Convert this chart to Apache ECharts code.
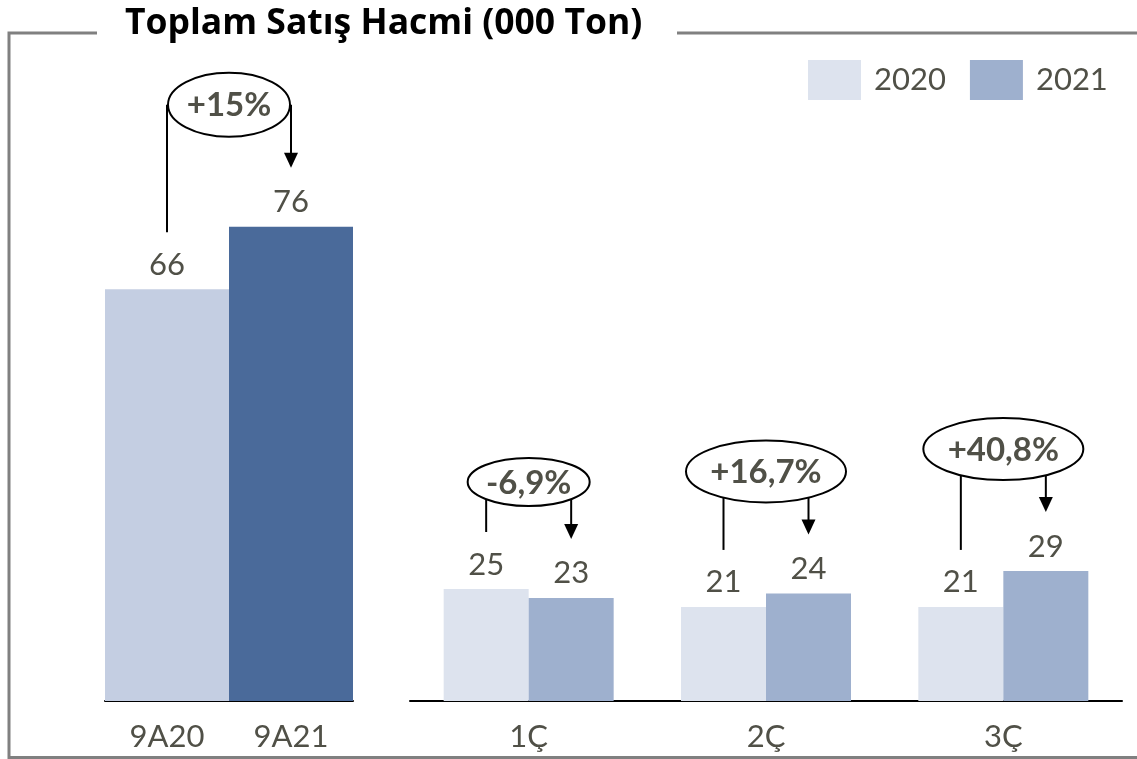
<!DOCTYPE html>
<html>
<head>
<meta charset="utf-8">
<script src="https://cdn.jsdelivr.net/npm/echarts@6/dist/echarts.min.js"></script>
<style>
html,body{margin:0;padding:0;background:#fff;}
#c{width:1137px;height:759px;}
</style>
</head>
<body>
<div id="c"></div>
<script>
// ---- data ----
const titleText = 'Toplam Satış Hacmi (000 Ton)';
const nineMonthCats = ['9A20', '9A21'];
const nineMonthValues = [66, 76];
const nineMonthChange = ['+15%'];
const quarterCats = ['1Ç', '2Ç', '3Ç'];
const values2020 = [25, 21, 21];
const values2021 = [23, 24, 29];
const quarterChange = ['-6,9%', '+16,7%', '+40,8%'];
const seriesNames = ['2020', '2021'];

// ---- styles ----
const FONT = 'Lato, "Open Sans", sans-serif';
const TXT = '#505047';
const C_9A20 = '#c4cee2';
const C_9A21 = '#4a6a9a';
const C_2020 = '#dde3ee';
const C_2021 = '#9eb0ce';
const FS = 31;

const chart = echarts.init(document.getElementById('c'), null, {renderer: 'canvas', width: 1137, height: 759});

const labelStyle = {show: true, position: 'top', distance: 9, fontSize: FS, color: TXT, fontFamily: FONT};
const xAxisBase = {
  type: 'category',
  axisLine: {show: true, lineStyle: {color: '#000', width: 2}},
  axisTick: {show: false},
  axisLabel: {fontSize: FS, color: TXT, fontFamily: FONT, margin: 20}
};

chart.setOption({
  animation: false,
  title: {
    text: titleText, left: 125, top: 6, padding: 0,
    textStyle: {fontSize: 35.5, fontWeight: 'bold', color: '#000', fontFamily: '"Open Sans", Lato, sans-serif'}
  },
  legend: {
    data: seriesNames, left: 808, top: 60, icon: 'rect', padding: 0,
    itemWidth: 53, itemHeight: 40, itemGap: 24,
    textStyle: {fontSize: FS, color: TXT, fontFamily: FONT, padding: [0, 0, 0, 8]}
  },
  grid: [
    {left: 105, width: 248, top: 77, height: 624},
    {left: 410, width: 712, top: 253, height: 448}
  ],
  xAxis: [
    Object.assign({gridIndex: 0, data: nineMonthCats}, xAxisBase),
    Object.assign({gridIndex: 1, data: quarterCats}, xAxisBase)
  ],
  yAxis: [
    {gridIndex: 0, type: 'value', min: 0, max: 100, show: false},
    {gridIndex: 1, type: 'value', min: 0, max: 100, show: false}
  ],
  series: [
    {
      name: '9A', type: 'bar', xAxisIndex: 0, yAxisIndex: 0,
      barWidth: '100%',
      data: nineMonthValues.map((v, i) => ({value: v, itemStyle: {color: i === 0 ? C_9A20 : C_9A21}})),
      label: labelStyle
    },
    {
      name: seriesNames[0], type: 'bar', xAxisIndex: 1, yAxisIndex: 1,
      barWidth: 85, barGap: '0%', itemStyle: {color: C_2020},
      data: values2020, label: labelStyle
    },
    {
      name: seriesNames[1], type: 'bar', xAxisIndex: 1, yAxisIndex: 1,
      barWidth: 85, barGap: '0%', itemStyle: {color: C_2021},
      data: values2021, label: labelStyle
    }
  ]
});

// ---- annotations computed from axis scales ----
const graphics = [];
const FRAME = '#808080';
graphics.push({type: 'polyline', shape: {points: [[97, 33], [9, 33], [9, 757.5], [1137, 757.5]]}, style: {stroke: FRAME, lineWidth: 3, fill: null}, z: 100});
graphics.push({type: 'line', shape: {x1: 677, y1: 33, x2: 1137, y2: 33}, style: {stroke: FRAME, lineWidth: 3}, z: 100});

const annoStyle = [
  {rx: 61, ry: 32, lift: 122},
  {rx: 61, ry: 24, lift: 107},
  {rx: 80, ry: 31, lift: 122},
  {rx: 80, ry: 31, lift: 122}
];

function annotate(leftX, leftTop, rightX, rightTop, text, st) {
  const cx = (leftX + rightX) / 2;
  const cy = Math.min(leftTop, rightTop) - st.lift;
  const edgeY = (x) => {
    const dx = Math.abs(x - cx);
    if (dx >= st.rx) return cy;
    return cy + st.ry * Math.sqrt(1 - (dx / st.rx) * (dx / st.rx));
  };
  graphics.push({type: 'ellipse', shape: {cx: cx, cy: cy, rx: st.rx, ry: st.ry}, style: {stroke: '#000', lineWidth: 2, fill: '#fff'}, z: 100});
  graphics.push({type: 'text', x: cx, y: cy + 1, style: {text: text, fontSize: 33, fontWeight: 'bold', fontFamily: FONT, fill: TXT, align: 'center', verticalAlign: 'middle'}, z: 101});
  const lEnd = leftTop - 57;
  graphics.push({type: 'line', shape: {x1: leftX, y1: edgeY(leftX), x2: leftX, y2: lEnd}, style: {stroke: '#000', lineWidth: 2}, z: 100});
  const tip = rightTop - 59;
  graphics.push({type: 'line', shape: {x1: rightX, y1: edgeY(rightX), x2: rightX, y2: tip - 12}, style: {stroke: '#000', lineWidth: 2}, z: 100});
  graphics.push({type: 'polygon', shape: {points: [[rightX - 7, tip - 15], [rightX + 7, tip - 15], [rightX, tip]]}, style: {fill: '#000'}, z: 100});
}

// nine-month group
{
  const p0 = chart.convertToPixel({xAxisIndex: 0, yAxisIndex: 0}, [0, nineMonthValues[0]]);
  const p1 = chart.convertToPixel({xAxisIndex: 0, yAxisIndex: 0}, [1, nineMonthValues[1]]);
  annotate(p0[0], p0[1], p1[0], p1[1], nineMonthChange[0], annoStyle[0]);
}
// quarters
quarterCats.forEach((c, i) => {
  const a = chart.convertToPixel({xAxisIndex: 1, yAxisIndex: 1}, [i, values2020[i]]);
  const b = chart.convertToPixel({xAxisIndex: 1, yAxisIndex: 1}, [i, values2021[i]]);
  annotate(a[0] - 42.5, a[1], b[0] + 42.5, b[1], quarterChange[i], annoStyle[i + 1]);
});

chart.setOption({graphic: graphics});
</script>
</body>
</html>
